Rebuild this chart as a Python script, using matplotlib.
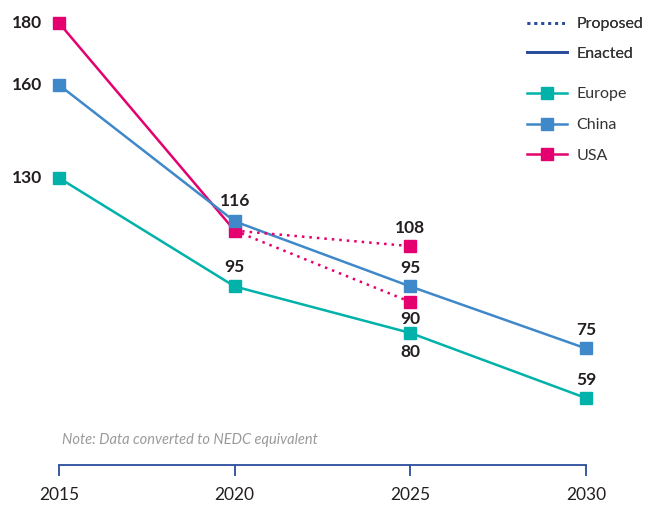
import matplotlib.pyplot as plt
from matplotlib.lines import Line2D

# Data (g CO2/km, NEDC equivalent)
years = [2015, 2020, 2025, 2030]
europe = [130, 95, 80, 59]
china = [160, 116, 95, 75]
usa_years = [2015, 2020]
usa = [180, 113]
usa_prop_years = [2020, 2025]
usa_prop_high = [113, 108]
usa_prop_low = [113, 90]

c_europe = '#00B2A9'
c_china = '#3F88C9'
c_usa = '#E5006F'
c_axis = '#2B4C9B'
c_text = '#231F20'

plt.rcParams['font.family'] = ['Lato', 'DejaVu Sans']

fig = plt.figure(figsize=(6.51, 5.05), dpi=100)
ax = fig.add_axes([59 / 651, 40 / 505, 527 / 651, 465 / 505])

lw = 1.8
ms = 8
ax.plot(years, europe, color=c_europe, lw=lw, marker='s', ms=ms, clip_on=False, zorder=3)
ax.plot(years, china, color=c_china, lw=lw, marker='s', ms=ms, clip_on=False, zorder=3)
ax.plot(usa_years, usa, color=c_usa, lw=lw, marker='s', ms=ms, clip_on=False, zorder=2.5)
ax.plot(usa_prop_years, usa_prop_high, color=c_usa, lw=lw, ls=(0, (1, 2)), marker='s', ms=ms,
        markevery=[1], clip_on=False, zorder=4)
ax.plot(usa_prop_years, usa_prop_low, color=c_usa, lw=lw, ls=(0, (1, 2)), marker='s', ms=ms,
        markevery=[1], clip_on=False, zorder=4)

ax.set_xlim(2015, 2030)
ax.set_ylim(37.4, 187.4)

# value labels
lab = dict(fontsize=12.5, fontweight='bold', color=c_text, ha='center', va='center',
           textcoords='offset points')
for v in [europe[0], china[0], usa[0]]:
    ax.annotate(str(v), (2015, v), xytext=(-23, 0), **lab)
ax.annotate(str(china[1]), (2020, china[1]), xytext=(0, 15), **lab)
ax.annotate(str(europe[1]), (2020, europe[1]), xytext=(0, 14), **lab)
ax.annotate(str(usa_prop_high[1]), (2025, usa_prop_high[1]), xytext=(0, 13), **lab)
ax.annotate(str(china[2]), (2025, china[2]), xytext=(0, 13), **lab)
ax.annotate(str(usa_prop_low[1]), (2025, usa_prop_low[1]), xytext=(0, -12), **lab)
ax.annotate(str(europe[2]), (2025, europe[2]), xytext=(0, -14), **lab)
ax.annotate(str(china[3]), (2030, china[3]), xytext=(0, 13), **lab)
ax.annotate(str(europe[3]), (2030, europe[3]), xytext=(0, 13), **lab)

ax.text(62 / 651, 1 - 440 / 505, 'Note: Data converted to NEDC equivalent', transform=fig.transFigure,
        fontsize=10.5, style='italic', color='#9A9A9A', va='center', ha='left')

# axes styling
for s in ['top', 'right', 'left']:
    ax.spines[s].set_visible(False)
ax.spines['bottom'].set_color(c_axis)
ax.spines['bottom'].set_linewidth(1.3)
ax.set_yticks([])
ax.set_xticks(years)
ax.set_xticklabels([str(y) for y in years])
ax.tick_params(axis='x', colors=c_axis, length=8, width=1.3, labelsize=12.5,
               labelcolor=c_text, pad=8)

# legends
leg1 = fig.legend(handles=[Line2D([], [], color=c_axis, lw=2, ls=(0, (1, 1.5))),
                           Line2D([], [], color=c_axis, lw=2)],
                  labels=['Proposed', 'Enacted'], loc='upper left',
                  bbox_to_anchor=(527 / 651, 1 - 17 / 505), frameon=False, fontsize=11.5,
                  handlelength=2.5, handletextpad=0.6, labelspacing=0.95, borderpad=0,
                  borderaxespad=0, labelcolor='#333333')
fig.add_artist(leg1)
fig.legend(handles=[Line2D([], [], color=c, lw=lw, marker='s', ms=ms) for c in [c_europe, c_china, c_usa]],
           labels=['Europe', 'China', 'USA'], loc='upper left',
           bbox_to_anchor=(527 / 651, 1 - 87 / 505), frameon=False, fontsize=11.5,
           handlelength=2.5, handletextpad=0.6, labelspacing=1.05, borderpad=0,
           borderaxespad=0, labelcolor='#333333')

fig.savefig('out.png', dpi=100)
